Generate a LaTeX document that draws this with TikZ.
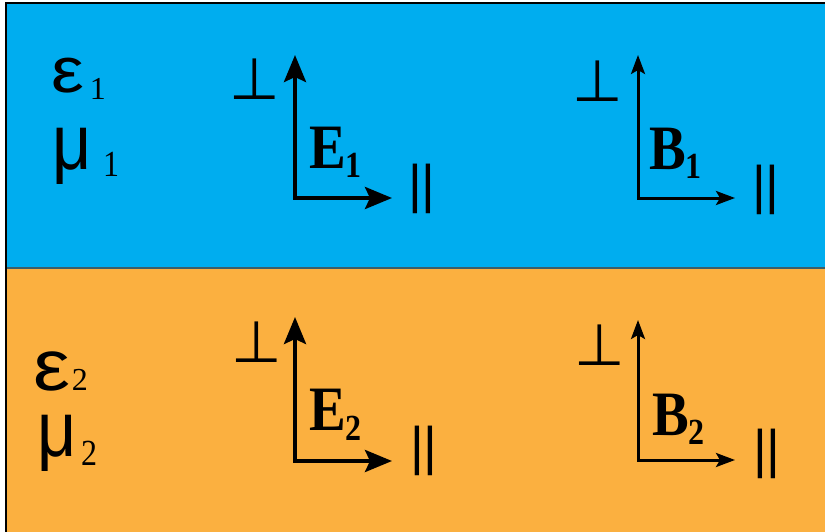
\documentclass[tikz,border=0pt]{standalone}
\usepackage{fontspec}
\usepackage{graphicx}
\usetikzlibrary{arrows.meta}
\newfontfamily\tnr{Liberation Serif}
\newfontfamily\gkf{Liberation Sans}
\newfontfamily\djv{DejaVu Sans}
\definecolor{topblue}{RGB}{0,173,239}
\definecolor{botorange}{RGB}{251,176,64}
\definecolor{sepline}{RGB}{60,95,105}
\newcommand\vlab[3]{\scalebox{1}[1.15]{\tnr\bfseries\fontsize{55}{55}\selectfont #1\raisebox{-#3}{\fontsize{32}{32}\selectfont #2}}}
\newcommand\tack{{\djv\fontsize{58}{58}\selectfont ⊥}}
\newcommand\para{{\gkf\fontsize{53}{53}\selectfont ||}}
\newcommand\gsub[1]{{\tnr\fontsize{32}{32}\selectfont #1}}
\tikzset{
  lbl/.style={anchor=base west, inner sep=0pt, outer sep=0pt},
  arrE/.style={line width=4pt, {Stealth[length=27pt,width=22pt,inset=5pt]}-{Stealth[length=27pt,width=22pt,inset=5pt]}},
  arrB/.style={line width=3pt, {Stealth[length=19pt,width=14pt,inset=4pt]}-{Stealth[length=19pt,width=14pt,inset=4pt]}},
}
\begin{document}
\begin{tikzpicture}[x=1pt,y=-1pt]
\useasboundingbox (0,0) rectangle (825,532);
\fill[white] (0,0) rectangle (825,532);
\fill[topblue] (6,3) rectangle (825,268);
\fill[botorange] (6,268) rectangle (825,532);
\draw[sepline, line width=2pt] (6,268) -- (825,268);
\draw[black, line width=2pt] (6,532) -- (6,3) -- (825,3);

% media labels
\node[lbl] (eps1) at (51,93) {\scalebox{1.15}[1]{\gkf\fontsize{64}{64}\selectfont ε}\kern6pt\raisebox{-7pt}{\gsub{1}}};
\node[lbl] (mu1) at (52,170) {\scalebox{1}[1.15]{\gkf\fontsize{68}{68}\selectfont μ\kern12pt\raisebox{-6pt}{\gsub{1}}}};
\node[lbl] (eps2) at (34,390) {\scalebox{1.15}[1]{\gkf\fontsize{72}{72}\selectfont ε}\kern1pt\gsub{2}};
\node[lbl] (mu2) at (37,456) {\scalebox{1}[1.15]{\gkf\fontsize{68}{68}\selectfont μ\kern5pt\raisebox{-8pt}{\gsub{2}}}};

% E1
\coordinate (e1o) at (295,198);
\coordinate (e1v) at (295,55);
\coordinate (e1h) at (392,198);
\draw[arrE] (e1v) -- (e1o) -- (e1h);
\node[lbl] (e1perp) at (229,100) {\tack};
\node[lbl] (e1par) at (408,202) {\para};
\node[lbl] (e1lab) at (309,168) {\vlab{E}{1}{8pt}};

% B1
\coordinate (b1o) at (638,198);
\coordinate (b1v) at (638,55);
\coordinate (b1h) at (735,198);
\draw[arrB] (b1v) -- (b1o) -- (b1h);
\node[lbl] (b1perp) at (572,102) {\tack};
\node[lbl] (b1par) at (752,204) {\para};
\node[lbl] (b1lab) at (649,170) {\vlab{B}{1}{7pt}};

% E2
\coordinate (e2o) at (295,461);
\coordinate (e2v) at (295,317);
\coordinate (e2h) at (392,461);
\draw[arrE] (e2v) -- (e2o) -- (e2h);
\node[lbl] (e2perp) at (231,362) {\tack};
\node[lbl] (e2par) at (410,464) {\para};
\node[lbl] (e2lab) at (309,430) {\vlab{E}{2}{9pt}};

% B2
\coordinate (b2o) at (638,460);
\coordinate (b2v) at (638,320);
\coordinate (b2h) at (735,460);
\draw[arrB] (b2v) -- (b2o) -- (b2h);
\node[lbl] (b2perp) at (574,365) {\tack};
\node[lbl] (b2par) at (753,467) {\para};
\node[lbl] (b2lab) at (652,435) {\vlab{B}{2}{8pt}};
\end{tikzpicture}
\end{document}
